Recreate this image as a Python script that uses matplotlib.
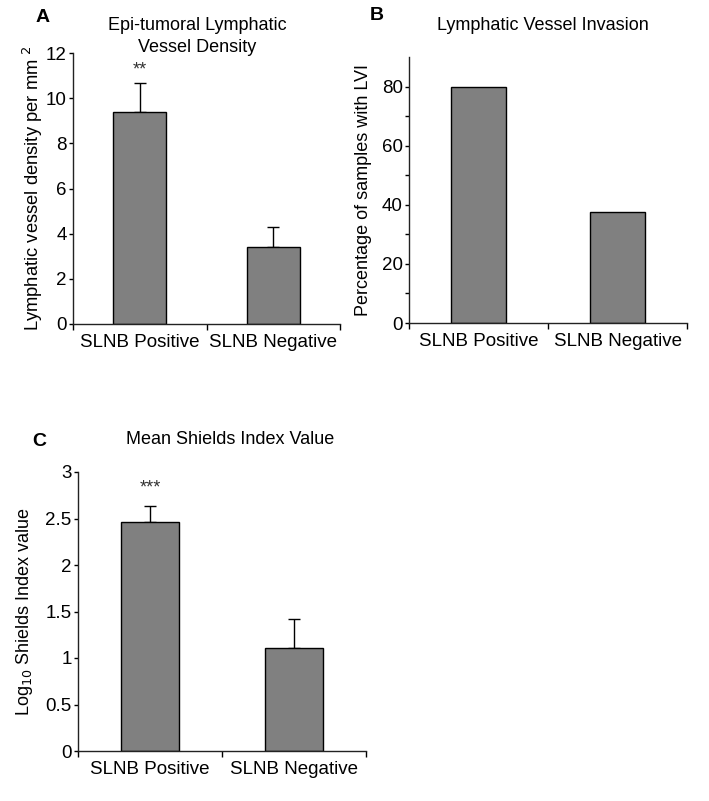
import matplotlib
matplotlib.use('Agg')
import matplotlib.pyplot as plt

plt.rcParams['font.family'] = ['Liberation Sans', 'DejaVu Sans']

groups = ['SLNB Positive', 'SLNB Negative']

# A: lymphatic vessel density
lvd_mean = [9.38, 3.42]
lvd_err = [1.27, 0.86]

# B: lymphatic vessel invasion (%)
lvi_pct = [80, 37.6]

# C: log10 Shields index
shields_mean = [2.46, 1.105]
shields_err = [0.17, 0.315]

W, H = 709, 801
fig = plt.figure(figsize=(W / 100, H / 100), dpi=100)


def px_axes(x0, x1, ytop, ybot):
    return fig.add_axes([x0 / W, 1 - ybot / H, (x1 - x0) / W, (ybot - ytop) / H])


def style(ax, ylim, yticks, labels):
    ax.set_xlim(-0.5, 1.5)
    ax.set_ylim(*ylim)
    for s in ['top', 'right']:
        ax.spines[s].set_visible(False)
    for s in ['left', 'bottom']:
        ax.spines[s].set_linewidth(1.0)
        ax.spines[s].set_color('#222222')
    ax.set_yticks(yticks)
    ax.set_yticklabels(labels)
    ax.tick_params(axis='y', direction='out', length=3, width=1, pad=1.5, labelsize=13.5)
    ax.set_xticks([-0.5, 0.5, 1.5])
    ax.set_xticklabels([])
    ax.tick_params(axis='x', which='major', direction='out', length=4, width=1)
    ax.set_xticks([0, 1], minor=True)
    ax.set_xticklabels(groups, minor=True)
    ax.tick_params(axis='x', which='minor', length=0, pad=7, labelsize=13.5)


def bars(ax, vals, err=None):
    ax.bar([0, 1], vals, width=0.4, color='#808080', edgecolor='black', linewidth=1.0, zorder=2)
    if err is not None:
        ax.errorbar([0, 1], vals, yerr=[[0, 0], err], fmt='none', ecolor='black',
                    elinewidth=1.0, capsize=4, capthick=1.0, zorder=1)


# Panel A
axA = px_axes(73, 340, 53, 324)
bars(axA, lvd_mean, lvd_err)
style(axA, (0, 12), range(0, 13, 2), [str(v) for v in range(0, 13, 2)])
axA.set_ylabel(r'Lymphatic vessel density per mm $^{2}$', fontsize=13.2)
axA.yaxis.set_label_coords(-0.103, 0.5)
axA.text(0, lvd_mean[0] + lvd_err[0] + 0.2, '**', ha='center', va='bottom', fontsize=13, color='#333333')

# Panel B
axB = px_axes(409, 687, 57, 323)
bars(axB, lvi_pct)
style(axB, (0, 90), range(0, 81, 20), [str(v) for v in range(0, 81, 20)])
axB.set_yticks(range(10, 80, 20), minor=True)
axB.tick_params(axis='y', which='minor', direction='out', length=3, width=1)
axB.set_ylabel('Percentage of samples with LVI', fontsize=13)
axB.yaxis.set_label_coords(-0.133, 0.5)

# Panel C
axC = px_axes(78, 366, 472, 751)
bars(axC, shields_mean, shields_err)
ticksC = [0, 0.5, 1, 1.5, 2, 2.5, 3]
style(axC, (0, 3), ticksC, ['0', '0.5', '1', '1.5', '2', '2.5', '3'])
axC.set_ylabel(r'Log$_{10}$ Shields Index value', fontsize=13)
axC.yaxis.set_label_coords(-0.148, 0.5)
axC.text(0, shields_mean[0] + shields_err[0] + 0.11, '***', ha='center', va='bottom', fontsize=13, color='#333333')

# titles and panel letters
fig.text(197 / W, 1 - 25 / H, 'Epi-tumoral Lymphatic', ha='center', va='center', fontsize=13)
fig.text(197 / W, 1 - 47 / H, 'Vessel Density', ha='center', va='center', fontsize=13)
fig.text(543 / W, 1 - 25 / H, 'Lymphatic Vessel Invasion', ha='center', va='center', fontsize=13)
fig.text(230 / W, 1 - 439 / H, 'Mean Shields Index Value', ha='center', va='center', fontsize=13)
fig.text(43 / W, 1 - 18 / H, 'A', ha='center', va='center', fontsize=14, fontweight='bold')
fig.text(377 / W, 1 - 15 / H, 'B', ha='center', va='center', fontsize=14, fontweight='bold')
fig.text(39 / W, 1 - 442 / H, 'C', ha='center', va='center', fontsize=14, fontweight='bold')

fig.savefig('out.png', dpi=100)
